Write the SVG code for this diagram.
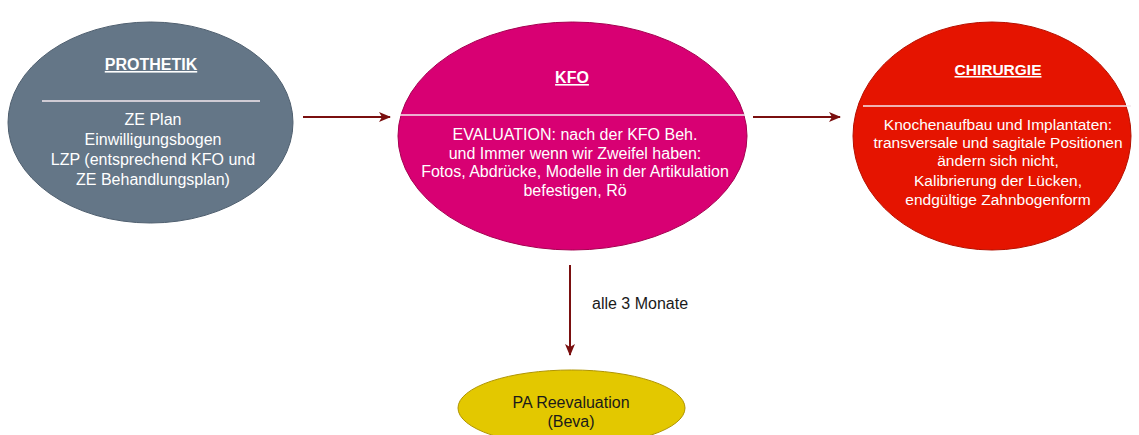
<svg xmlns="http://www.w3.org/2000/svg" width="1139" height="435" viewBox="0 0 1139 435">
<style>
text{font-family:"Liberation Sans",Arial,sans-serif;font-size:16px;text-anchor:middle}
.w{fill:#ffffff}
.t{font-weight:bold;text-decoration:underline}
.c{font-size:15.5px}
.d{fill:#1a1a1a}
.sep{stroke:#f3e8ee;stroke-width:1.3}
.conn{stroke:#7a0f0f;stroke-width:2;fill:none}
</style>
<defs>
<marker id="ah" viewBox="0 0 12 10" refX="11" refY="5" markerWidth="12" markerHeight="10" markerUnits="userSpaceOnUse" orient="auto">
<path d="M0,0 L12,5 L0,10 L3,5 Z" fill="#7a0f0f"/>
</marker>
</defs>
<rect width="1139" height="435" fill="#ffffff"/>
<g id="prothetik">
<ellipse cx="150.5" cy="122.5" rx="142.5" ry="100.5" fill="#647687" stroke="#4f5f6f"/>
<text class="w t" x="151" y="70">PROTHETIK</text>
<line class="sep" x1="42" y1="101" x2="260" y2="101"/>
<text class="w" x="153" y="125">ZE Plan</text>
<text class="w" x="153" y="145">Einwilligungsbogen</text>
<text class="w" x="153" y="165">LZP (entsprechend KFO und</text>
<text class="w" x="153" y="185">ZE Behandlungsplan)</text>
</g>
<g id="kfo">
<ellipse cx="572.5" cy="136" rx="174.5" ry="114" fill="#d80073" stroke="#a50050"/>
<text class="w t" x="572" y="83">KFO</text>
<line class="sep" x1="400" y1="115" x2="745" y2="115"/>
<text class="w" x="575" y="140">EVALUATION: nach der KFO Beh.</text>
<text class="w" x="575" y="158.5">und Immer wenn wir Zweifel haben:</text>
<text class="w" x="575" y="177">Fotos, Abdrücke, Modelle in der Artikulation</text>
<text class="w" x="575" y="196">befestigen, Rö</text>
</g>
<g id="chirurgie">
<ellipse cx="992" cy="136" rx="139" ry="114" fill="#e51400" stroke="#b51000"/>
<text class="w t c" x="998" y="75">CHIRURGIE</text>
<line class="sep" x1="863" y1="106" x2="1131" y2="106"/>
<text class="w c" x="998" y="130">Knochenaufbau und Implantaten:</text>
<text class="w c" x="998" y="148">transversale und sagitale Positionen</text>
<text class="w c" x="998" y="166">ändern sich nicht,</text>
<text class="w c" x="998" y="186">Kalibrierung der Lücken,</text>
<text class="w c" x="998" y="205">endgültige Zahnbogenform</text>
</g>
<g id="pa">
<ellipse cx="571.5" cy="408" rx="113.5" ry="38" fill="#e3c800" stroke="#b09500"/>
<text class="d" x="571" y="408">PA Reevaluation</text>
<text class="d" x="571" y="427">(Beva)</text>
</g>
<g id="connectors">
<line class="conn" x1="303" y1="117" x2="390" y2="117" marker-end="url(#ah)"/>
<line class="conn" x1="753" y1="117" x2="840" y2="117" marker-end="url(#ah)"/>
<line class="conn" x1="570" y1="265" x2="570" y2="355" marker-end="url(#ah)"/>
<text x="592" y="309" style="fill:#1a1a1a;text-anchor:start">alle 3 Monate</text>
</g>
</svg>
